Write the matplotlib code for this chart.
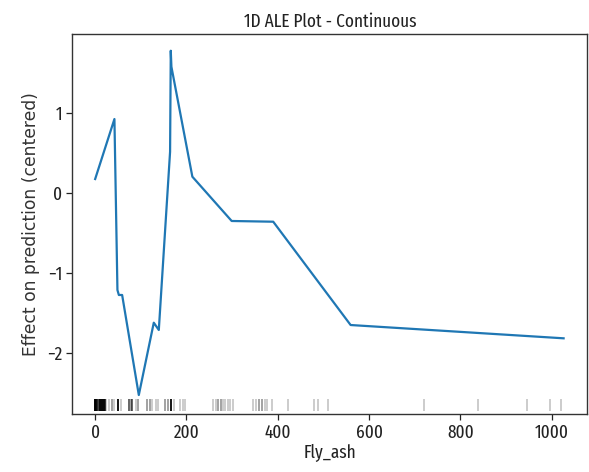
import matplotlib
matplotlib.use("Agg")
import matplotlib.pyplot as plt
import matplotlib.transforms as mtrans
import numpy as np

# ALE curve (bin edges of Fly_ash and centred effect)
fly_ash_edges = [0, 42.2, 48.8, 51.9, 59.1, 95.6, 128.4, 139.4, 164.1, 165.6,
                 167.0, 212.9, 299.0, 390.0, 559.5, 1026.0]
ale_eff = [0.171, 0.92, -1.215, -1.277, -1.277, -2.526, -1.623, -1.714, 0.512,
           1.773, 1.573, 0.20, -0.353, -0.362, -1.652, -1.818]

# rug: observed Fly_ash values and how many samples sit on each
rug_values = [0, 2.5, 5, 7.5, 10, 12.5, 15, 17.5, 20, 22, 24.8, 30, 35.8, 41.6,
              49.2, 56, 73.7, 78, 81.7, 90.5, 94, 114.5, 119.6, 124.7, 134,
              137.8, 152.5, 159.7, 167, 172.9, 185, 192.6, 197.6, 259, 264, 269,
              275, 280, 285, 291, 296, 301, 346, 352, 359, 366, 371, 376, 387,
              423, 480, 489, 510.5, 720, 839, 946, 996, 1020]
rug_counts = [15, 6, 8, 6, 8, 6, 8, 6, 8, 6, 1, 1, 2, 1,
              10, 1, 4, 2, 4, 1, 2, 2, 2, 1, 1,
              1, 2, 2, 10, 1, 1, 1, 1, 1, 1, 2,
              2, 1, 1, 1, 1, 1, 1, 1, 2, 2, 1, 1, 1,
              1, 1, 1, 1, 1, 1, 1, 1, 1]

cond = "Fira Sans Extra Condensed"

fig = plt.figure(figsize=(5.89, 4.72), dpi=100)
ax = fig.add_axes([0.1228, 0.1229, 0.8744, 0.8044])

ax.plot(fly_ash_edges, ale_eff, color="#1f77b4", lw=1.6)

rug_x = np.repeat(rug_values, rug_counts)
tr = mtrans.offset_copy(ax.transData, fig=fig, x=0.0, y=-7.2, units="points")
ax.plot(rug_x, [min(ale_eff)] * len(rug_x), "|", color="k", alpha=0.2,
        markersize=8.6, markeredgewidth=1.4, transform=tr)

ax.set_xlim(-50, 1078)
ax.set_ylim(-2.763, 1.978)
ax.set_xticks([0, 200, 400, 600, 800, 1000])
ax.set_yticks([-2, -1, 0, 1])
ax.tick_params(length=4, width=0.9, pad=3, colors="#222222")
for lab in ax.get_xticklabels() + ax.get_yticklabels():
    lab.set_family(cond)
    lab.set_fontsize(13.5)
for sp in ax.spines.values():
    sp.set_linewidth(1.0)
    sp.set_color("#333333")

ax.set_title("1D ALE Plot - Continuous", family=cond, fontsize=13.5, pad=5,
             color="#222222")
ax.set_xlabel("Fly_ash", family=cond, fontsize=13.5, labelpad=2, color="#222222")
ax.set_ylabel("Effect on prediction (centered)", family="DejaVu Sans",
              fontsize=12.3, color="#333333")
ax.yaxis.set_label_coords(-0.062, 0.5)

fig.savefig("out.png", dpi=100)
